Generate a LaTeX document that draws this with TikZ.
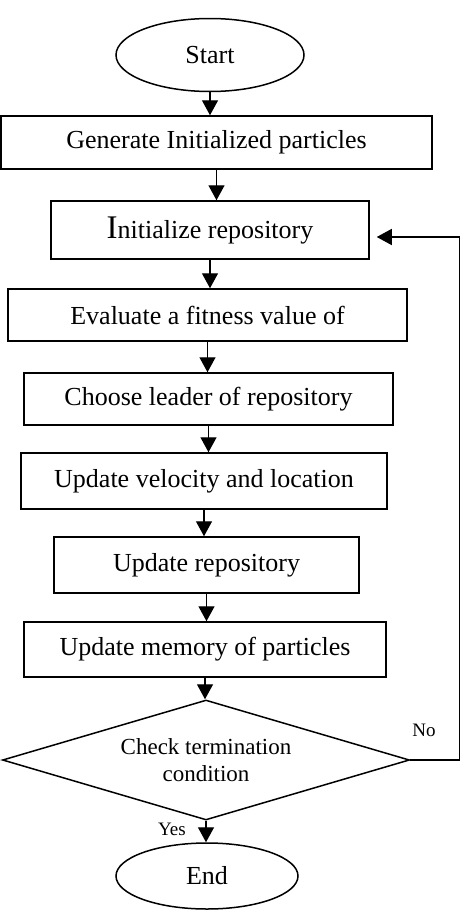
\documentclass[tikz,border=0pt]{standalone}
\usepackage{fontspec}
\setmainfont{Liberation Serif}
\usepackage{tikz}
\usetikzlibrary{shapes.geometric,arrows.meta}

\begin{document}
\begin{tikzpicture}[x=1pt,y=-1pt,
    every node/.style={inner sep=0pt,font=\fontsize{26}{30}\selectfont},
    stepbox/.style={draw,rectangle,line width=1.5pt},
    term/.style={draw,ellipse,line width=1.5pt},
    decision/.style={draw,diamond,aspect=3.4,line width=1.5pt,align=center,
                     font=\fontsize{23}{27}\selectfont},
    tag/.style={font=\fontsize{19}{22}\selectfont},
    arr/.style={-{Triangle[length=15pt,width=16pt]},line width=1.4pt}]
  \useasboundingbox (0,0) rectangle (461,918);

  \node[term,minimum width=188pt,minimum height=73pt] (start) at (210,55) {Start};

  % process steps: name/text/centre x/centre y/width/height
  \foreach \nm/\txt/\cx/\cy/\w/\h in {
      b1/Generate Initialized particles/216.5/142.5/431/53,
      b2/{\fontsize{33}{30}\selectfont I}nitialize repository/210/230/318/58,
      b3/Evaluate a fitness value of/207.5/315/399/52,
      b4/Choose leader of repository/208.5/399/369/52,
      b5/Update velocity and location/204/481/366/56,
      b6/Update repository/206.5/565/305/56,
      b7/Update memory of particles/205/649.5/362/55}{
    \node[stepbox,minimum width=\w pt,minimum height=\h pt] (\nm) at (\cx,\cy) {\txt};
  }

  \node[decision,minimum width=407pt,minimum height=120pt] (chk) at (206,760)
    {Check termination\\condition};
  \node[term,minimum width=182pt,minimum height=66pt] (end) at (207,876) {End};

  \node[tag] (yes) at (172,829) {Yes};
  \node[tag] (no) at (424,730) {No};

  \foreach \a/\b in {start/b1,b1/b2,b2/b3,b3/b4,b4/b5,b5/b6,b6/b7,b7/chk,chk/end}
    \draw[arr] (\a) -- (\a |- \b.north);

  % loop back when not finished
  \draw[arr,shorten >=7pt] (chk.east) -- ++(49,0) |- ([yshift=-7pt]b2.east);
\end{tikzpicture}
\end{document}
